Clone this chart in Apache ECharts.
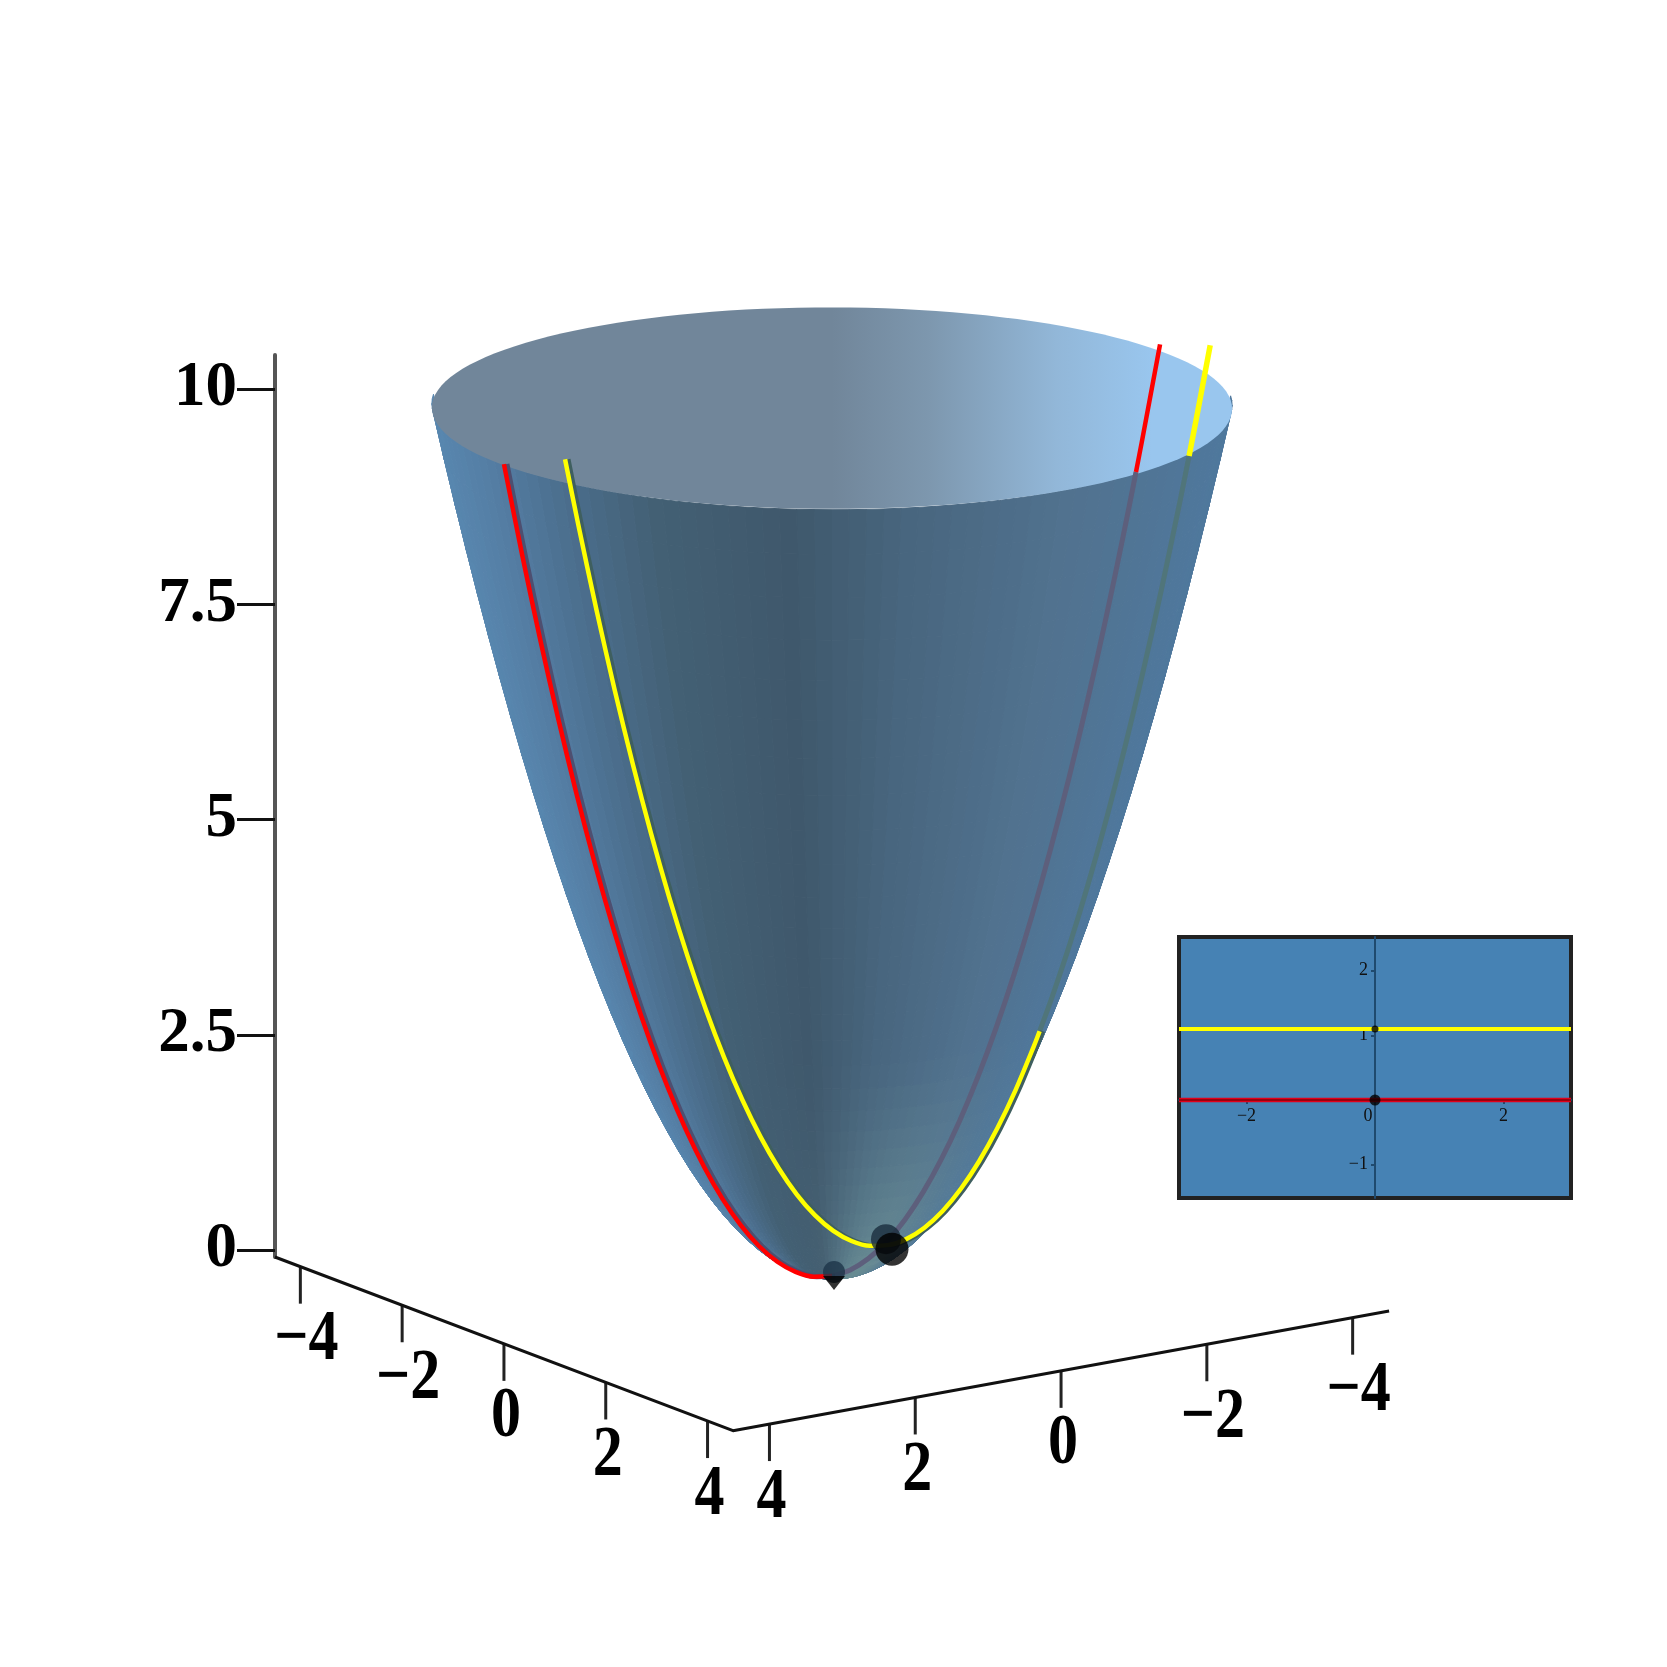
<!DOCTYPE html>
<html><head><meta charset="utf-8">
<style>html,body{margin:0;padding:0;background:#fff}#c{width:1667px;height:1667px}</style>
<script src="https://cdn.jsdelivr.net/npm/echarts@6/dist/echarts.min.js"></script>
</head><body><div id="c"></div>
<script>
// ---- data ----
const zTicks = [0, 2.5, 5, 7.5, 10];
const leftAxisTicks = [-4, -2, 0, 2, 4];
const rightAxisTicks = [4, 2, 0, -2, -4];
const boxLimit = 4.5;
const boxFloor = -0.093;

const surfaceRadius = [0,.125,.25,.375,.5,.625,.75,.875,1,1.125,1.25,1.375,1.5,1.625,1.75,1.875,2,2.125,2.25,2.375,2.5,2.625,2.75,2.875,3,3.125,3.25,3.375,3.5,3.625,3.75,3.875,4,4.125,4.25,4.375,4.5];
const surfaceHeight = [0,.008,.031,.07,.125,.195,.281,.383,.5,.633,.781,.945,1.125,1.32,1.531,1.758,2,2.258,2.531,2.82,3.125,3.445,3.781,4.133,4.5,4.883,5.281,5.695,6.125,6.57,7.031,7.508,8,8.508,9.031,9.57,10.125];

const redB = [4.5,4.25,4,3.75,3.5,3.25,3,2.75,2.5,2.25,2,1.75,1.5,1.25,1,.75,.5,.25,0,-.25,-.5,-.75,-1,-1.25,-1.5,-1.75,-2,-2.25,-2.5,-2.75,-3,-3.25,-3.5,-3.75,-4,-4.17,-4.25,-4.5];
const redZ = [10.125,9.031,8,7.031,6.125,5.281,4.5,3.781,3.125,2.531,2,1.531,1.125,.781,.5,.281,.125,.031,0,.031,.125,.281,.5,.781,1.125,1.531,2,2.531,3.125,3.781,4.5,5.281,6.125,7.031,8,8.694,9.031,10.125];
const yellowB = [4.43,4.25,4,3.75,3.5,3.25,3,2.75,2.5,2.25,2,1.75,1.5,1.25,1,.75,.5,.25,0,-.25,-.5,-.75,-1,-1.25,-1.5,-1.75,-2,-2.08,-2.25,-2.5,-2.75,-3,-3.25,-3.5,-3.75,-4,-4.13,-4.25,-4.42];
const yellowZ = [10.417,9.636,8.605,7.636,6.73,5.886,5.105,4.386,3.73,3.136,2.605,2.136,1.73,1.386,1.105,.886,.73,.636,.605,.636,.73,.886,1.105,1.386,1.73,2.136,2.605,2.768,3.136,3.73,4.386,5.105,5.886,6.73,7.636,8.605,9.133,9.636,10.373];
const yellowA = 1.1;
const originPoint = [0, 0, 0];
const contactPoint = [1.1, 0, .605];

const insetLineX = [-3.05, 3.05];
const insetYellow = [1.097, 1.097];
const insetRed = [0, 0];
const insetDots = [[0, 0, 11], [0, 1.097, 7]];
const insetXTicks = [-2, 0, 2];
const insetYTicks = [-1, 1, 2];

// ---- view ----
const UNIT = 86.1;
const GRID = {left: 275, top: 355, width: 1115, height: 902};
function project(a, b, z) {
  return [(557 + 50.9 * a - 72.9 * b) / UNIT, z - (19.3 * a + 13.3 * b + 26) / UNIT];
}
const rad = d => d * Math.PI / 180;
const ANGLES = Array.from({length: 144}, (_, i) => i * 2.5);
const STEP = 2.5;

const wallU = [-1, -.85, -.7, -.45, -.1, .2, .6, 1];
const wallRGB = [[88,135,175],[84,125,163],[76,112,144],[67,96,116],[63,88,108],[72,102,127],[81,114,143],[79,120,157]];
function wallColor(u, z) {
  let i = 0; while (i < wallU.length - 2 && u > wallU[i + 1]) i++;
  const t = Math.min(1, Math.max(0, (u - wallU[i]) / (wallU[i + 1] - wallU[i])));
  let c = wallRGB[i].map((v, k) => v + (wallRGB[i + 1][k] - v) * t);
  const lowz = Math.max(0, 1 - z / 3.2);
  const w = Math.pow(lowz, 1.2) * Math.exp(-Math.pow((u - .42) / .42, 2)) * .95;
  const hi = [108, 144, 148];
  c = c.map((v, k) => Math.round(v + (hi[k] - v) * w));
  return 'rgb(' + c.join(',') + ')';
}

const quads = [];
surfaceRadius.slice(1).forEach((_, r) => ANGLES.forEach((d, t) => {
  const mid = rad(d + STEP / 2);
  if (19.3 * Math.cos(mid) + 13.3 * Math.sin(mid) > -2) quads.push([r, t]);
}));

function seg(bs, zs, a, lo, hi, dx) {
  const out = [];
  bs.forEach((b, i) => { if (b >= lo && b <= hi) { const p = project(a, b, zs[i]); out.push([p[0] + (dx || 0) / UNIT, p[1]]); } });
  return out;
}
function line3d(data, color, width, z) {
  return {type: 'line', data, xAxisIndex: 0, yAxisIndex: 0, showSymbol: false, smooth: .3, clip: false, silent: true, z,
    lineStyle: {color, width, cap: 'butt', join: 'round'}, animation: false};
}
const labelFont = 'bold 60px "Liberation Serif", serif';
function tickSeries(ticks, toPoint, z) {
  return {type: 'custom', xAxisIndex: 0, yAxisIndex: 0, z, silent: true, animation: false, clip: false,
    data: ticks.map(t => [t]),
    renderItem(params, api) {
      const t = api.value(0), p = api.coord(toPoint(t));
      const neg = t < 0;
      return {type: 'group', children: [
        {type: 'line', shape: {x1: p[0], y1: p[1], x2: p[0], y2: p[1] + 37}, style: {stroke: '#222', lineWidth: 3}},
        {type: 'text', x: p[0] + (neg ? 6 : 2), y: p[1] + 74, scaleY: 1.2,
          style: {text: neg ? '\u2212' + Math.abs(t) : String(t), x: 0, y: 0, align: 'center', verticalAlign: 'middle', font: labelFont, fill: '#000'}}
      ]};
    }};
}

const series = [
  {type: 'custom', xAxisIndex: 0, yAxisIndex: 0, z: 2, silent: true, animation: false, clip: false, data: quads,
    renderItem(params, api) {
      const r = api.value(0), t = api.value(1);
      const t2 = (t + 1) % ANGLES.length;
      const pt = (ri, ti) => api.coord(project(surfaceRadius[ri] * Math.cos(rad(ANGLES[ti])), surfaceRadius[ri] * Math.sin(rad(ANGLES[ti])), surfaceHeight[ri]));
      const mid = rad(ANGLES[t] + STEP / 2);
      const u = (50.9 * Math.cos(mid) - 72.9 * Math.sin(mid)) / 88.9;
      const col = wallColor(u, (surfaceHeight[r] + surfaceHeight[r + 1]) / 2);
      return {type: 'polygon', shape: {points: [pt(r, t), pt(r, t2), pt(r + 1, t2), pt(r + 1, t)]}, style: {fill: col, stroke: col, lineWidth: 1}};
    }},
  {type: 'custom', xAxisIndex: 0, yAxisIndex: 0, z: 3, silent: true, animation: false, clip: false, data: [[boxLimit, surfaceHeight[surfaceHeight.length - 1] - .045]],
    renderItem(params, api) {
      const R = api.value(0), Z = api.value(1);
      const cy = api.coord(project(0, 0, Z))[1];
      const pts = ANGLES.map(d => {
        const p = api.coord(project(R * Math.cos(rad(d)), R * Math.sin(rad(d)), Z));
        return [p[0], cy + (p[1] - cy) * .955];
      });
      return {type: 'polygon', shape: {points: pts}, style: {
        fill: new echarts.graphic.LinearGradient(0, 0, 1, 0, [
          {offset: 0, color: '#71869a'}, {offset: .5, color: '#71869a'}, {offset: .62, color: '#7d97ae'},
          {offset: .78, color: '#92b7d8'}, {offset: .9, color: '#99c6ee'}, {offset: 1, color: '#99c6ee'}])}};
    }},
  // lines seen through the wall
  line3d(seg(redB, redZ, 0, -4.17, 0), '#5d5f7c', 5, 4),
  line3d(seg(yellowB, yellowZ, yellowA, -4.13, -2.08), '#50757a', 5, 4),
  // soft edge beside the lines in front
  line3d(seg(redB, redZ, 0, 0, 4.5, 3), '#4e4f70', 5, 4),
  line3d(seg(yellowB, yellowZ, yellowA, -2.08, 4.43, 3), '#3f5f5f', 5, 4),
  // bright pieces
  line3d(seg(redB, redZ, 0, 0, 4.5), '#ff0000', 4.5, 5),
  line3d(seg(redB, redZ, 0, -4.5, -4.17), '#ff0000', 4.5, 5),
  line3d(seg(yellowB, yellowZ, yellowA, -2.08, 4.43), '#ffff00', 4.5, 5),
  line3d(seg(yellowB, yellowZ, yellowA, -4.42, -4.13), '#ffff00', 5.5, 5),
  // points
  {type: 'scatter', xAxisIndex: 0, yAxisIndex: 0, z: 6, silent: true, animation: false, clip: false, data: [project(...contactPoint)],
    symbol: 'circle', symbolSize: 30, symbolOffset: [-2, -6], itemStyle: {color: '#1a2d3d'}},
  {type: 'scatter', xAxisIndex: 0, yAxisIndex: 0, z: 7, silent: true, animation: false, clip: false, data: [project(...contactPoint)],
    symbol: 'circle', symbolSize: 33, symbolOffset: [4, 4], itemStyle: {color: '#000'}},
  {type: 'scatter', xAxisIndex: 0, yAxisIndex: 0, z: 6, silent: true, animation: false, clip: false, data: [project(...originPoint)],
    symbol: 'circle', symbolSize: 22, symbolOffset: [2, -4], itemStyle: {color: '#1d3548'}},
  {type: 'scatter', xAxisIndex: 0, yAxisIndex: 0, z: 7, silent: true, animation: false, clip: false, data: [project(...originPoint)],
    symbol: 'triangle', symbolRotate: 180, symbolSize: [22, 14], symbolOffset: [2, 7], itemStyle: {color: '#000'}},
  // floor axes
  Object.assign(line3d([project(-boxLimit, boxLimit, boxFloor), project(boxLimit, boxLimit, boxFloor), project(boxLimit, -boxLimit, boxFloor)], '#111', 3, 8), {smooth: false}),
  tickSeries(leftAxisTicks, a => project(a, boxLimit, boxFloor), 8),
  tickSeries(rightAxisTicks, b => project(boxLimit, b, boxFloor), 8),
  // inset
  {type: 'line', xAxisIndex: 1, yAxisIndex: 1, z: 5, data: insetLineX.map((x, i) => [x, insetRed[i]]), showSymbol: false, silent: true, animation: false,
    lineStyle: {color: '#e0001a', width: 4.5}},
  {type: 'line', xAxisIndex: 1, yAxisIndex: 1, z: 5, data: insetLineX.map((x, i) => [x, insetRed[i]]), showSymbol: false, silent: true, animation: false,
    lineStyle: {color: '#9a000c', width: 2}},
  {type: 'line', xAxisIndex: 1, yAxisIndex: 1, z: 5, data: insetLineX.map((x, i) => [x, insetYellow[i]]), showSymbol: false, silent: true, animation: false,
    lineStyle: {color: '#ffff00', width: 4}},
  {type: 'scatter', xAxisIndex: 1, yAxisIndex: 1, z: 6, data: insetDots, silent: true, animation: false,
    symbolSize: v => v[2], itemStyle: {color: '#000'}}
];

const insetFont = {fontFamily: '"Liberation Serif", serif', fontSize: 18, color: '#111'};
const chart = echarts.init(document.getElementById('c'), null, {renderer: 'canvas'});
chart.setOption({
  backgroundColor: '#fff',
  animation: false,
  tooltip: {show: false},
  grid: [
    Object.assign({containLabel: false}, GRID),
    {left: 1179, top: 937, width: 392, height: 261, show: true, backgroundColor: '#4682b4', borderColor: '#222', borderWidth: 4, z: 4}
  ],
  xAxis: [
    {gridIndex: 0, type: 'value', min: 0, max: GRID.width / UNIT, show: false},
    {gridIndex: 1, type: 'value', min: -3.05, max: 3.05, splitLine: {show: false}, offset: -98,
      axisLine: {onZero: false, lineStyle: {color: '#1f4a6e', width: 2}},
      axisTick: {customValues: insetXTicks, length: 4, lineStyle: {color: '#1f4a6e', width: 2}},
      axisLabel: {customValues: insetXTicks, margin: 7, ...insetFont,
        formatter: v => v === 0 ? '{z|0}' : (v < 0 ? '\u2212' + Math.abs(v) : String(v)),
        rich: {z: {...insetFont, padding: [0, 14, 0, 0]}}}, z: 5}
  ],
  yAxis: [
    {gridIndex: 0, type: 'value', min: -7 / UNIT, max: (1250 - GRID.top) / UNIT, splitLine: {show: false},
      axisLine: {show: true, lineStyle: {color: '#555', width: 4}},
      axisTick: {customValues: zTicks, length: 38, lineStyle: {color: '#111', width: 3}},
      axisLabel: {customValues: zTicks, margin: 38, fontFamily: '"Liberation Serif", serif', fontWeight: 'bold', fontSize: 63, color: '#000'}},
    {gridIndex: 1, type: 'value', min: -98 / 64.7, max: 163 / 64.7, splitLine: {show: false}, offset: -196,
      axisLine: {onZero: false, lineStyle: {color: '#1f4a6e', width: 2}},
      axisTick: {customValues: insetYTicks, length: 4, lineStyle: {color: '#1f4a6e', width: 2}},
      axisLabel: {customValues: insetYTicks, margin: 7, ...insetFont, formatter: v => v < 0 ? '\u2212' + Math.abs(v) : String(v)}, z: 5}
  ],
  series
});
</script></body></html>
